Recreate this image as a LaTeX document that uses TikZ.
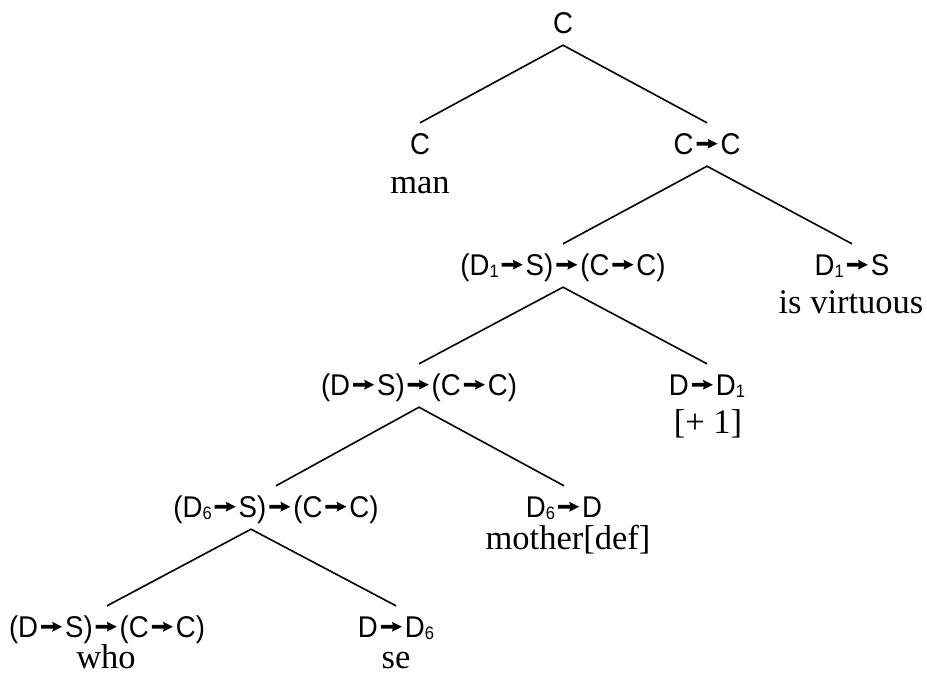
\documentclass[tikz,border=0pt]{standalone}
\usepackage{fontspec}
\setmainfont{Liberation Serif}
\newfontfamily\catfont[FakeStretch=0.92]{Liberation Sans}
\newcommand\catarrow{\hspace{3pt}\tikz[baseline=0pt,x=1pt,y=1pt]\fill (0,8.4) -- (12,8.4) -- (11,5.3) -- (21,10.3) -- (11,15.3) -- (12,12.2) -- (0,12.2) -- cycle;\hspace{3pt}}
\newcommand\catsub[1]{\raisebox{-2pt}{\fontsize{18}{18}\selectfont #1}}
\tikzset{
  cat/.style={font=\catfont\fontsize{30}{30}\selectfont, anchor=base,
    text height=22pt, text depth=3pt, inner ysep=9pt, inner xsep=0pt},
  word/.style={font=\fontsize{34.5}{34.5}\selectfont, anchor=base, inner sep=0pt},
  edge/.style={line width=1.6pt}
}
\begin{document}
\begin{tikzpicture}[x=1pt,y=-1pt]
\useasboundingbox (0,0) rectangle (927,681);
\node[cat] (r) at (563,33) {C};
\node[cat] (a) at (420,154) {C};
\node[cat] (b) at (707,154) {C\catarrow C};
\node[cat] (c) at (563,275) {(D\catsub{1}\catarrow S)\catarrow(C\catarrow C)};
\node[cat] (d) at (852,275) {D\catsub{1}\catarrow S};
\node[cat] (e) at (419,395) {(D\catarrow S)\catarrow(C\catarrow C)};
\node[cat] (f) at (707,395) {D\catarrow D\catsub{1}};
\node[cat] (g) at (276,517) {(D\catsub{6}\catarrow S)\catarrow(C\catarrow C)};
\node[cat] (h) at (564,517) {D\catsub{6}\catarrow D};
\node[cat] (i) at (107,637) {(D\catarrow S)\catarrow(C\catarrow C)};
\node[cat] (j) at (396,637) {D\catarrow D\catsub{6}};
\node[word] (wa) at (420,193) {man};
\node[word] (wd) at (851,313) {is virtuous};
\node[word] (wf) at (708,433) {[+ 1]};
\node[word] (wh) at (568,549) {mother[def]};
\node[word] (wi) at (106,668) {who};
\node[word] (wj) at (396,668) {se};
\draw[edge] (a.north) -- (r.south) -- (b.north);
\draw[edge] (c.north) -- (b.south) -- (d.north);
\draw[edge] (e.north) -- (c.south) -- (f.north);
\draw[edge] (g.north) -- (e.south) -- (h.north);
\draw[edge] (i.north) -- ([xshift=-25pt]g.south) -- (j.north);
\end{tikzpicture}
\end{document}
